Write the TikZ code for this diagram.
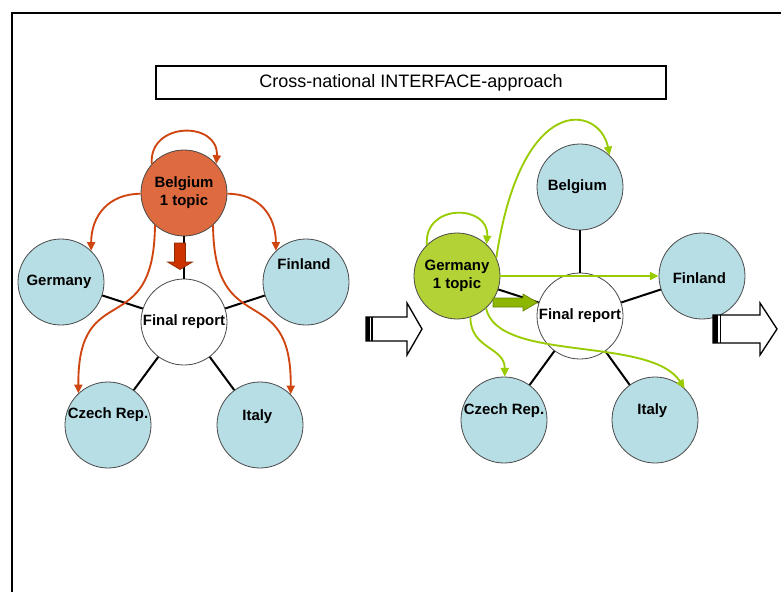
\documentclass[tikz,border=0pt]{standalone}
\usepackage{fontspec}
\setmainfont{Liberation Sans}
\usetikzlibrary{arrows.meta}

\definecolor{seablue}{HTML}{B7DEE5}
\definecolor{rimgray}{HTML}{4A4A4A}
\definecolor{rustfill}{HTML}{DD6B3F}
\definecolor{rustline}{HTML}{CF4510}
\definecolor{rustblock}{HTML}{CC3300}
\definecolor{rustedge}{HTML}{8E2A00}
\definecolor{limefill}{HTML}{B2D235}
\definecolor{limeline}{HTML}{99CC00}
\definecolor{limeblock}{HTML}{8DB600}
\definecolor{limeedge}{HTML}{648400}

\newcommand{\labelfont}{\fontsize{11.2}{13.5}\selectfont\bfseries}

\begin{document}
\begin{tikzpicture}[x=0.75pt,y=-0.75pt,
  country/.style={circle, draw=rimgray, line width=0.6pt, fill=seablue,
    minimum size=64.5pt, inner sep=0pt, font=\labelfont, align=center},
  report/.style={country, fill=white},
  lbl/.style={font=\labelfont, inner sep=0pt},
  spoke/.style={draw=black, line width=1.5pt},
  rustarrow/.style={draw=rustline, line width=1.4pt,
    -{Triangle[length=6.5pt,width=6pt]}},
  limearrow/.style={draw=limeline, line width=1.4pt,
    -{Triangle[length=6.5pt,width=6pt]}}
]
\useasboundingbox (0,0) rectangle (781,592);

% page frame
\draw[line width=1.5pt] (12,592) -- (12,13) -- (781,13);

% heading
\node[draw, line width=1.8pt, minimum width=382.5pt, minimum height=24.75pt,
  inner sep=0pt, font=\fontsize{13.5}{16}\selectfont] (title) at (411,82.5)
  {Cross-national INTERFACE-approach};

% ---------------- first round: Belgium leads ----------------
\node[report] (lrep) at (184,322) {Final report};
\node[country, fill=rustfill] (lbel) at (184,193) {Belgium\\1 topic};
\node[country] (lger) at (61,282) {\hspace*{-3pt}Germany};
\node[country, label={[lbl, yshift=13.5pt, xshift=-1.5pt]center:Finland}] (lfin) at (306,282) {};
\node[country, label={[lbl, yshift=8pt]center:Czech Rep.}] (lcz) at (108,425) {};
\node[country, label={[lbl, yshift=6pt, xshift=-2pt]center:Italy}] (lita) at (260,425) {};

\foreach \n in {lbel,lger,lfin,lcz,lita} \draw[spoke] (\n) -- (lrep);

% hand-over arrow to the report
\begin{scope}[shift={(180,243)}]
  \draw[fill=rustblock, draw=rustedge, line width=0.5pt]
    (-5.5,0) -- (5.5,0) -- (5.5,19) -- (12.5,19) -- (0,26.5)
    -- (-12.5,19) -- (-5.5,19) -- cycle;
\end{scope}

\draw[rustarrow] (lbel.138) .. controls +(-3,-43) and +(3,-43) .. (lbel.42);
\draw[rustarrow] (lbel.181) .. controls +(-32,0) and +(0,-35) .. (lger.46);
\draw[rustarrow] (lbel.359) .. controls +(32,0) and +(0,-35) .. (lfin.134);
\draw[rustarrow] (lbel.228) .. controls +(-1,118) and +(-1,-117) .. (lcz.133);
\draw[rustarrow] (lbel.312) .. controls +(1,118) and +(1,-117) .. (lita.45);

% ---------------- second round: Germany leads ----------------
\node[report] (rrep) at (580,316) {Final report};
\node[country, fill=limefill] (rger) at (457,276) {Germany\\1 topic};
\node[country] (rbel) at (580,187) {\hspace*{-4pt}Belgium};
\node[country, label={[lbl, yshift=-1.5pt, xshift=-2pt]center:Finland}] (rfin) at (702,276) {};
\node[country, label={[lbl, yshift=6.75pt]center:Czech Rep.}] (rcz) at (504,420) {};
\node[country, label={[lbl, yshift=6.75pt, xshift=-2pt]center:Italy}] (rita) at (655,420) {};

\foreach \n in {rbel,rger,rfin,rcz,rita} \draw[spoke] (\n) -- (rrep);

% hand-over arrow to the report
\begin{scope}[shift={(493,302.5)}]
  \draw[fill=limeblock, draw=limeedge, line width=0.5pt]
    (0,-4.5) -- (30,-4.5) -- (30,-8.5) -- (44.5,0) -- (30,8.5)
    -- (30,4.5) -- (0,4.5) -- cycle;
\end{scope}

\draw[limearrow] (rger.134) .. controls +(-3,-42) and +(3,-40) .. (rger.47);
\draw[limearrow] (rger.25) .. controls +(25,-167) and +(-10,-50) .. (rbel.47);
\draw[limearrow] (rger.east) -- (rfin.west);
\draw[limearrow] (rger.-72) .. controls +(0,32) and +(0,-30) .. (rcz.89);
\draw[limearrow] (rger.312) .. controls +(12,55) and +(-35,-53) .. (rita.47);

% striped block arrows between the rounds
\begin{scope}[shift={(366,329)}]
  \draw[line width=1pt, fill=white] (0,-12) -- (41,-12) -- (41,-26) -- (56,0)
    -- (41,26) -- (41,12) -- (0,12) -- cycle;
  \fill (0,-12) rectangle (3.5,12);
  \draw[line width=1pt] (6,-12) -- (6,12);
\end{scope}
\begin{scope}[shift={(713,329)}]
  \draw[line width=1pt, fill=white] (0,-14) -- (47,-14) -- (47,-26) -- (64,0)
    -- (47,26) -- (47,14) -- (0,14) -- cycle;
  \fill (0,-14) rectangle (4.5,14);
  \draw[line width=1pt] (7.5,-14) -- (7.5,14);
\end{scope}
\end{tikzpicture}
\end{document}
